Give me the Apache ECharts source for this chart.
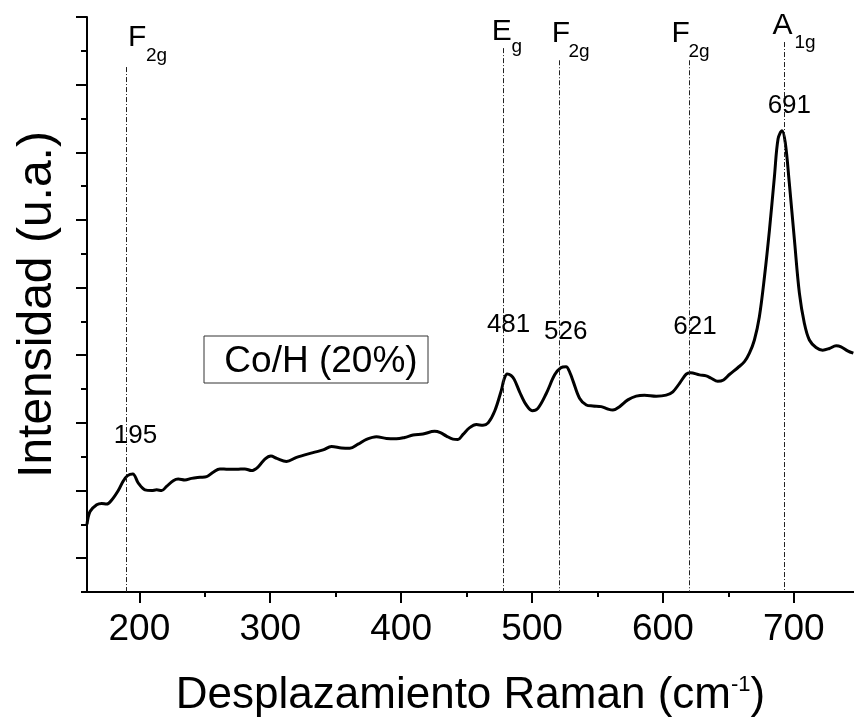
<!DOCTYPE html>
<html>
<head>
<meta charset="utf-8">
<title>Raman Co/H (20%)</title>
<script src="https://cdn.jsdelivr.net/npm/echarts@6/dist/echarts.min.js"></script>
<style>
  html, body { margin: 0; padding: 0; background: #fff; }
  #chart { width: 854px; height: 726px; }
</style>
</head>
<body>
<div id="chart"></div>
<script>
// Raman spectrum of Co/H (20%): shift (cm-1) and intensity (a.u.)
const ramanShift = [
  160, 162.3, 167.4, 171.2, 175.0, 178.9, 183.9, 187.7, 191.0, 195.0,
  199.2, 204.3, 209.4, 213.2, 217.0, 220.8, 225.9, 229.7, 234.8, 239.9,
  246.3, 251.4, 256.4, 261.5, 267.9, 274.3, 280.6, 285.7, 290.8, 295.9,
  300.5, 305.0, 312.4, 320.1, 332.7, 340.4, 346.8, 354.4, 360.8, 367.1,
  373.5, 381.1, 388.8, 396.4, 402.7, 409.1, 416.7, 425.6, 430.0, 434.6,
  439.6, 443.4, 447.3, 452.4, 457.5, 462.5, 466.5, 471.5, 476.6, 478.6,
  481.0, 484.0, 486.5, 490.5, 495.6, 500.2, 504.5, 510.9, 517.3, 522.0,
  526.0, 529.0, 531.5, 536.3, 541.5, 546.5, 552.9, 557.9, 561.8, 566.9,
  573.2, 579.6, 585.9, 594.9, 602.5, 607.6, 612.7, 617.8, 621.0, 628.0,
  633.1, 636.9, 641.9, 646.3, 650.8, 657.2, 662.3, 666.1, 669.9, 673.7,
  677.6, 681.4, 685.2, 688.0, 691.0, 693.5, 696.6, 700.5, 704.3, 708.1,
  711.9, 717.0, 722.1, 727.2, 732.3, 736.1, 741.1, 745.5
];
const intensity = [
  1.00, 1.19, 1.29, 1.31, 1.30, 1.36, 1.50, 1.64, 1.72, 1.745,
  1.61, 1.51, 1.50, 1.51, 1.50, 1.56, 1.645, 1.67, 1.655, 1.68,
  1.695, 1.705, 1.77, 1.82, 1.815, 1.815, 1.82, 1.795, 1.85, 1.965,
  2.01, 1.975, 1.93, 1.99, 2.06, 2.10, 2.15, 2.13, 2.125, 2.185,
  2.255, 2.295, 2.27, 2.265, 2.285, 2.32, 2.335, 2.375, 2.355, 2.305,
  2.26, 2.255, 2.33, 2.43, 2.475, 2.465, 2.50, 2.675, 2.985, 3.14,
  3.222, 3.20, 3.14, 2.96, 2.765, 2.68, 2.715, 2.935, 3.21, 3.315,
  3.33, 3.24, 3.11, 2.865, 2.765, 2.75, 2.74, 2.705, 2.69, 2.74,
  2.84, 2.895, 2.91, 2.895, 2.91, 2.96, 3.085, 3.22, 3.242, 3.21,
  3.195, 3.16, 3.115, 3.135, 3.215, 3.315, 3.405, 3.53, 3.725, 4.07,
  4.66, 5.35, 6.14, 6.70, 6.82, 6.64, 6.04, 5.20, 4.415, 3.97,
  3.725, 3.615, 3.575, 3.60, 3.64, 3.625, 3.565, 3.53
];

// Band assignments: reference line position, line top, symbol and subscript
const bandShift = [190, 478, 521, 620, 693];
const bandTop = [7.76, 8.04, 7.86, 7.86, 8.13];
const bandSymbol = ['F', 'E', 'F', 'F', 'A'];
const bandSub = ['2g', 'g', '2g', '2g', '1g'];

// Peak maxima written over the spectrum
const peakValues = [195, 481, 526, 621, 691];

// Tick positions
const xMajorTicks = [200, 300, 400, 500, 600, 700];
const xMinorTicks = [250, 350, 450, 550, 650];
const yMajorTicks = [0.5, 1.5, 2.5, 3.5, 4.5, 5.5, 6.5, 7.5, 8.5];
const yMinorTicks = [0, 1, 2, 3, 4, 5, 6, 7, 8];

const seriesName = 'Co/H (20%)';

// Label anchors (in axis units)
const symbolAnchor = [[191.3, 8.19], [469.2, 8.28], [515.0, 8.25], [606.6, 8.25], [683.7, 8.37]];
const subAnchor = [[205.0, 7.92], [484.4, 8.06], [527.9, 7.98], [619.5, 7.98], [700.5, 8.12]];
const peakAnchor = [[197.1, 2.31], [482.1, 3.95], [525.7, 3.85], [624.5, 3.92], [696.6, 7.19]];

const FONT = '"Liberation Sans", Arial, Helvetica, sans-serif';
const X_MIN = 160, X_MAX = 746, Y_MIN = 0, Y_MAX = 8.5;

const chart = echarts.init(document.getElementById('chart'), null, { renderer: 'canvas' });

const spectrum = ramanShift.map((x, i) => [x, intensity[i]]);

const axisLineStyle = { color: '#000', width: 2 };

const textLayer = (points, texts, size, align) => ({
  type: 'scatter',
  silent: true,
  symbolSize: 0,
  clip: false,
  z: 5,
  itemStyle: { opacity: 1 },
  data: points.map((p, i) => [p[0], p[1], String(texts[i])]),
  label: {
    show: true,
    position: [0, 0],
    align: align,
    verticalAlign: 'middle',
    formatter: (p) => p.value[2],
    color: '#000',
    opacity: 1,
    fontFamily: FONT,
    fontSize: size
  }
});

const option = {
  backgroundColor: '#fff',
  animation: false,
  grid: { left: 87, right: 0, top: 17, bottom: 134, containLabel: false },
  xAxis: [
    {
      type: 'value', min: X_MIN, max: X_MAX,
      name: 'Desplazamiento Raman (cm{sup|-1})',
      nameLocation: 'middle', nameGap: 82,
      nameTextStyle: {
        fontFamily: FONT, fontSize: 44, color: '#000',
        rich: { sup: { fontFamily: FONT, fontSize: 22, color: '#000', verticalAlign: 'top' } }
      },
      axisLine: { show: true, onZero: false, lineStyle: axisLineStyle },
      axisTick: { show: true, length: 11, lineStyle: axisLineStyle, customValues: xMajorTicks },
      axisLabel: { show: true, margin: 19, fontFamily: FONT, fontSize: 37, color: '#000', customValues: xMajorTicks },
      splitLine: { show: false }
    },
    {
      type: 'value', min: X_MIN, max: X_MAX, position: 'bottom',
      axisLine: { show: false },
      axisTick: { show: true, length: 5, lineStyle: axisLineStyle, customValues: xMinorTicks },
      axisLabel: { show: false },
      splitLine: { show: false }
    }
  ],
  yAxis: [
    {
      type: 'value', min: Y_MIN, max: Y_MAX,
      name: 'Intensidad (u.a.)',
      nameLocation: 'middle', nameGap: 25, nameRotate: 90,
      nameTextStyle: { fontFamily: FONT, fontSize: 48, color: '#000' },
      axisLine: { show: true, onZero: false, lineStyle: axisLineStyle },
      axisTick: { show: true, length: 11, lineStyle: axisLineStyle, customValues: yMajorTicks },
      axisLabel: { show: false },
      splitLine: { show: false }
    },
    {
      type: 'value', min: Y_MIN, max: Y_MAX, position: 'left',
      axisLine: { show: false },
      axisTick: { show: true, length: 6, lineStyle: axisLineStyle, customValues: yMinorTicks },
      axisLabel: { show: false },
      splitLine: { show: false }
    }
  ],
  series: [
    {
      name: seriesName,
      type: 'line',
      data: spectrum,
      smooth: 0.35,
      showSymbol: false,
      symbol: 'none',
      lineStyle: { color: '#000', width: 3 },
      z: 4,
      markLine: {
        silent: true,
        symbol: 'none',
        label: { show: false },
        lineStyle: { color: '#222', width: 1, type: [5, 2, 1, 2] },
        data: bandShift.map((x, i) => [{ coord: [x, bandTop[i]] }, { coord: [x, Y_MIN] }])
      }
    },
    textLayer(symbolAnchor, bandSymbol, 30, 'left'),
    textLayer(subAnchor, bandSub, 19, 'left'),
    textLayer(peakAnchor, peakValues, 26, 'center')
  ],
  graphic: [
    {
      type: 'rect', z: 10,
      shape: { x: 204, y: 336, width: 224, height: 47 },
      style: { fill: '#fff', stroke: '#333', lineWidth: 1 }
    },
    {
      type: 'text', z: 11, x: 321, y: 362,
      style: { text: seriesName, fontFamily: FONT, fontSize: 37, fill: '#000', align: 'center', verticalAlign: 'middle' }
    }
  ]
};

chart.setOption(option);
</script>
</body>
</html>
